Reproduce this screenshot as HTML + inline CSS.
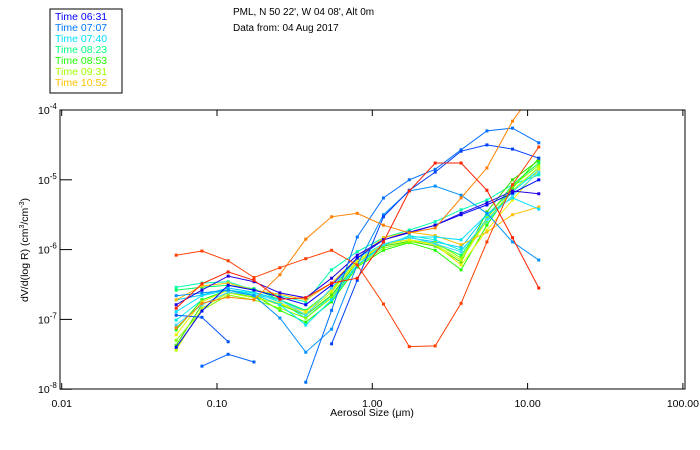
<!DOCTYPE html>
<html><head><meta charset="utf-8">
<style>
html,body{margin:0;padding:0;background:#fff;}
svg{display:block;font-family:"Liberation Sans",sans-serif;}
</style></head>
<body>
<svg id="chart" width="700" height="450" viewBox="0 0 700 450">
  <defs><clipPath id="plotclip"><rect x="60" y="110" width="625" height="279"/></clipPath></defs>
  <rect x="50" y="9" width="72" height="84" fill="#fff" stroke="#000" stroke-width="1"/>
  <g id="legend" font-size="10.5"></g>
  <text x="233" y="15" font-size="10">PML, N 50 22', W 04 08', Alt 0m</text>
  <text x="233" y="31" font-size="10">Data from: 04 Aug 2017</text>
  <g id="series" clip-path="url(#plotclip)"></g>
  <rect x="60" y="110" width="625" height="279" fill="none" stroke="#000" stroke-width="1"/>
  <g id="axes" font-size="10.5"></g>
  <text x="372" y="416" font-size="10.5" text-anchor="middle">Aerosol Size (μm)</text>
  <text transform="translate(28,250) rotate(-90)" font-size="10.5" text-anchor="middle">dV/d(log R) (cm<tspan font-size="7" dy="-4">3</tspan><tspan dy="4">/cm</tspan><tspan font-size="7" dy="-4">-3</tspan><tspan dy="4">)</tspan></text>
</svg>
<script>
// aerosol sizes (µm)
const sizes = [0.0546,0.080,0.118,0.173,0.254,0.373,0.547,0.80,1.18,1.73,2.54,3.73,5.47,8.0,11.8];
const xTicks = [0.01,0.1,1,10,100];
const xTickLabels = ["0.01","0.10","1.00","10.00","100.00"];
const yTickExps = [-4,-5,-6,-7,-8];
const legendLabels = ["Time 06:31","Time 07:07","Time 07:40","Time 08:23","Time 08:53","Time 09:31","Time 10:52"];
const legendColors = ["#0000ff","#0078ff","#00e0ff","#00ff80","#20ff00","#a0ff00","#ffc000"];
// log10(dV/dlogR) per series
const sOrangeRed = [-6.08,-6.02,-6.16,-6.40,-6.26,-6.13,-6.01,-6.22,-6.78,-7.39,-7.38,-6.77,-5.89,-5.07,-4.53];
const sOrange = [-7.12,-6.77,-6.68,-6.72,-6.36,-5.85,-5.53,-5.48,-5.65,-5.76,-5.69,-5.26,-4.83,-4.16,-3.64];
const sRed = [-6.84,-6.49,-6.32,-6.44,-6.71,-6.69,-6.48,-6.41,-5.89,-5.16,-4.76,-4.76,-5.15,-5.83,-6.55];
const sBlueA = [null,null,null,null,null,-7.90,-6.87,-5.82,-5.26,-5.00,-4.85,-4.57,-4.30,-4.26,-4.47];
const sBlueB = [null,null,null,null,null,null,-7.35,-6.44,-5.53,-5.15,-4.89,-4.59,-4.50,-4.56,-4.69];
const sBlueC = [-6.66,-6.62,-6.58,-6.66,-6.98,-7.47,-7.14,-6.22,-5.50,-5.16,-5.09,-5.22,-5.48,-5.89,-6.15];
const sBlueD = [-6.94,-6.97,-7.32,null,null,null,null,null,null,null,null,null,null,null,null];
const sBlueE = [null,-7.67,-7.50,-7.61,null,null,null,null,null,null,null,null,null,null,null];
const sBlue0631 = [-7.40,-6.88,-6.51,-6.58,-6.68,-6.79,-6.51,-6.12,-5.86,-5.75,-5.65,-5.50,-5.36,-5.19,-5.00];
const sIndigo = [-6.79,-6.58,-6.38,-6.46,-6.62,-6.69,-6.41,-6.08,-5.86,-5.76,-5.65,-5.48,-5.33,-5.16,-5.20];
const sCyan1 = [-6.72,-6.65,-6.55,-6.61,-6.72,-6.89,-6.58,-6.18,-5.93,-5.83,-5.89,-5.97,-5.50,-5.15,-4.83];
const sCyan2 = [-7.01,-6.72,-6.58,-6.62,-6.75,-6.98,-6.66,-6.22,-5.95,-5.80,-5.86,-6.01,-5.60,-5.17,-4.86];
const sTeal = [-6.54,-6.48,-6.46,-6.58,-6.66,-6.75,-6.29,-6.03,-5.83,-5.72,-5.60,-5.43,-5.29,-5.07,-4.93];
const sGreen1 = [-6.58,-6.54,-6.51,-6.56,-6.72,-6.87,-6.58,-6.12,-5.92,-5.86,-5.92,-6.08,-5.55,-5.07,-4.76];
const sGreen2 = [-7.15,-6.72,-6.58,-6.65,-6.87,-7.04,-6.75,-6.25,-6.01,-5.90,-6.01,-6.29,-5.65,-5.12,-4.69];
const sGreen3 = [-7.37,-6.79,-6.61,-6.68,-6.79,-6.94,-6.65,-6.18,-5.95,-5.88,-5.95,-6.18,-5.46,-5.00,-4.72];
const sLime = [-7.30,-6.87,-6.65,-6.72,-6.84,-6.98,-6.69,-6.23,-5.98,-5.89,-5.90,-6.12,-5.55,-5.09,-4.79];
const sYellowGreen = [-7.44,-6.84,-6.62,-6.69,-6.78,-6.92,-6.61,-6.15,-5.93,-5.86,-5.93,-6.15,-5.58,-5.15,-4.82];
const sYellow = [-7.22,-6.75,-6.58,-6.66,-6.77,-6.89,-6.58,-6.18,-5.92,-5.86,-5.93,-6.22,-5.72,-5.29,-4.86];
const sGold = [-6.72,-6.52,-6.48,-6.58,-6.64,-6.72,-6.48,-6.12,-5.83,-5.75,-5.80,-5.93,-5.75,-5.50,-5.39];
const sCyan3 = [-6.89,-6.66,-6.58,-6.64,-6.79,-7.08,-6.72,-6.22,-5.93,-5.82,-5.82,-5.86,-5.50,-5.26,-5.42];
const sCyan4 = [-7.08,-6.79,-6.61,-6.65,-6.72,-6.94,-6.55,-6.12,-5.92,-5.82,-5.92,-6.03,-5.57,-5.23,-4.89];
const seriesList = [sCyan1,sCyan2,sTeal,sGreen1,sGreen2,sGreen3,sLime,sYellowGreen,sYellow,sGold,sCyan3,sCyan4,sBlueC,sBlueD,sBlueE,sBlue0631,sIndigo,sBlueA,sBlueB,sOrange,sOrangeRed,sRed];
const seriesNames = ["cyan-1","cyan-2","teal","green-1","green-2","green-3","lime","yellow-green","yellow","gold","cyan-3","cyan-4","light-blue","blue-short-1","blue-short-2","blue-0631","indigo","dodger-blue","blue-2","orange","orange-red","red"];
const seriesColors = ["#00c8ff","#00f0e0","#00ffb0","#00ff60","#20ff00","#40e000","#80ff00","#c0ff00","#f0f000","#ffc000","#00e0ff","#40d8ff","#0090ff","#0050ff","#0060ff","#0000ff","#2000e0","#0070ff","#0040ff","#ff8000","#ff4000","#ff2000"];

const X0=61.7, XDEC=155.3, Y0=110, YDEC=69.8;
function xScale(v){return X0+(Math.log10(v)+2)*XDEC;}
function yScale(lg){return Y0+(-4-lg)*YDEC;}
const NS="http://www.w3.org/2000/svg";
function mk(tag,attrs){const e=document.createElementNS(NS,tag);for(const k in attrs)e.setAttribute(k,attrs[k]);return e;}

const axes=document.getElementById('axes');
xTicks.forEach((t,i)=>{
  const x=xScale(t);
  const t1=mk('line',{x1:x,x2:x,y1:389,y2:383,stroke:'#000'});
  
  
  axes.appendChild(t1);
  const t2=mk('line',{x1:x,x2:x,y1:110,y2:116,stroke:'#000'});
  
  
  axes.appendChild(t2);
  const lb=mk('text',{x:x,y:407,'text-anchor':'middle'});
  lb.textContent=xTickLabels[i];
  
  
  axes.appendChild(lb);
});
yTickExps.forEach(e=>{
  const y=yScale(e);
  const tk=mk('line',{x1:60,x2:72,y1:y,y2:y,stroke:'#000'});
  
  
  axes.appendChild(tk);
  const lb=mk('text',{x:38,y:y+4});
  
  
  const a=mk('tspan',{});a.textContent='10';lb.appendChild(a);
  const b=mk('tspan',{'font-size':'8',dy:'-5'});b.textContent=String(e);lb.appendChild(b);
  axes.appendChild(lb);
});

const sg=document.getElementById('series');
seriesList.forEach((s,si)=>{
  const g=mk('g',{});
  
  
  const col=seriesColors[si];
  let d='',pen=false;
  s.forEach((v,i)=>{
    if(v===null){pen=false;return;}
    d+=(pen?'L':'M')+xScale(sizes[i]).toFixed(1)+','+yScale(v).toFixed(1);
    pen=true;
  });
  const p=mk('path',{d:d,fill:'none',stroke:col,'stroke-width':1});
  
  
  g.appendChild(p);
  s.forEach((v,i)=>{
    if(v===null)return;
    const r=mk('rect',{x:xScale(sizes[i])-1.5,y:yScale(v)-1.5,width:3,height:3,fill:col});
    
    
    g.appendChild(r);
  });
  sg.appendChild(g);
});

const lg=document.getElementById('legend');
legendLabels.forEach((l,i)=>{
  const t=mk('text',{x:55,y:20+i*11,fill:legendColors[i]});
  t.textContent=l;
  
  
  lg.appendChild(t);
});
</script>
</body></html>
